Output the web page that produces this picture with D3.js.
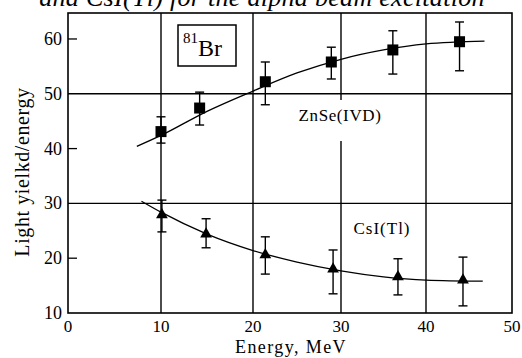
<!DOCTYPE html>
<html>
<head>
<meta charset="utf-8">
<script src="https://cdn.jsdelivr.net/npm/d3@7"></script>
<style>
  body { margin: 0; background: #fff; }
  svg { display: block; }
  svg text { font-family: "Times New Roman", "Liberation Serif", Times, "DejaVu Serif", serif; }
</style>
</head>
<body>
<div id="plot"></div>
<script>
// Data
const xTicks = [0, 10, 20, 30, 40, 50];
const yTickLabels = [10, 20, 30, 40, 50, 60];
const xGrid = [10, 20, 30, 40];
const yGrid = [30, 50];

// ZnSe(IVD) points: energy, value, error low, error high
const znEnergy = [10, 14.2, 21.4, 28.9, 36.1, 43.9];
const znValue = [43.1, 47.4, 52.2, 55.8, 58.0, 59.5];
const znLow = [41.0, 44.3, 48.0, 52.7, 53.6, 54.2];
const znHigh = [45.8, 50.3, 55.8, 58.5, 61.5, 63.1];
const znFitE = [7.4, 10, 15, 20, 25, 30, 35, 40, 46.8];
const znFitV = [40.4, 42.4, 46.8, 50.5, 53.8, 56.3, 58.0, 59.1, 59.6];

// CsI(Tl) points
const csEnergy = [10.1, 14.9, 21.4, 29.1, 36.7, 44.3];
const csValue = [27.9, 24.4, 20.6, 18.0, 16.6, 16.0];
const csLow = [24.8, 21.9, 17.1, 13.5, 13.3, 11.3];
const csHigh = [30.6, 27.2, 23.9, 21.5, 19.9, 20.2];
const csFitE = [7.9, 10, 15, 20, 25, 30, 35, 40, 46.6];
const csFitV = [30.4, 28.4, 24.4, 21.4, 19.3, 17.7, 16.6, 16.0, 15.8];

const W = 522, H = 358;
const pLeft = 68, pRight = 512, pTop = 13, pBottom = 313;
const serif = "'Times New Roman', 'Liberation Serif', 'DejaVu Serif', serif";

const svg = d3.select("#plot").append("svg")
  .attr("width", W)
  .attr("height", H)
  .attr("font-family", serif);

// the scan is a little uneven along x, so map each decade on its own
const xScale = d3.scaleLinear()
  .domain(xTicks)
  .range([pLeft, 161, 253, 341, 426, pRight]);
const yScale = d3.scaleLinear()
  .domain([10, 64.74])
  .range([pBottom, pTop]);

// title line (cut at the top, as in the source)
svg.append("text")
  .attr("x", 262)
  .attr("y", 6)
  .attr("text-anchor", "middle")
  .style("font-style", "italic")
  .style("font-size", "26px")
  .style("letter-spacing", "0.3px")
  .text("and CsI(Tl) for the alpha beam excitation");

// grid lines
svg.selectAll(".vgrid")
  .data(xGrid)
  .join("line")
  .attr("x1", d => xScale(d)).attr("x2", d => xScale(d))
  .attr("y1", pTop).attr("y2", pBottom)
  .attr("stroke", "#000").attr("stroke-width", 1.4);

svg.selectAll(".hgrid")
  .data(yGrid)
  .join("line")
  .attr("x1", pLeft).attr("x2", pRight)
  .attr("y1", d => yScale(d)).attr("y2", d => yScale(d))
  .attr("stroke", "#000").attr("stroke-width", 1.4);

// small ticks on left axis
svg.selectAll(".ytick")
  .data([20, 40, 60])
  .join("line")
  .attr("x1", pLeft).attr("x2", pLeft + 9)
  .attr("y1", d => yScale(d)).attr("y2", d => yScale(d))
  .attr("stroke", "#000").attr("stroke-width", 1.3);

// frame
svg.append("rect")
  .attr("x", pLeft).attr("y", pTop)
  .attr("width", pRight - pLeft).attr("height", pBottom - pTop)
  .attr("fill", "none").attr("stroke", "#000").attr("stroke-width", 1.6);

// tick labels
svg.selectAll(".xlab")
  .data(xTicks)
  .join("text")
  .attr("x", d => xScale(d))
  .attr("y", 332)
  .attr("text-anchor", "middle")
  .style("font-size", "17px")
  .text(d => d);

svg.selectAll(".ylab")
  .data(yTickLabels)
  .join("text")
  .attr("x", 62)
  .attr("y", d => yScale(d) + 6)
  .attr("text-anchor", "end")
  .style("font-size", "18px")
  .text(d => d);

// axis titles
svg.append("text")
  .attr("x", 291)
  .attr("y", 353)
  .attr("text-anchor", "middle")
  .style("font-size", "18px")
  .style("letter-spacing", "1.4px")
  .text("Energy, MeV");

svg.append("text")
  .attr("transform", "translate(29,172) rotate(-90)")
  .attr("text-anchor", "middle")
  .style("font-size", "20px")
  .style("letter-spacing", "0.6px")
  .text("Light yielkd/energy");

// 81Br box
svg.append("rect")
  .attr("x", 178).attr("y", 25)
  .attr("width", 58).attr("height", 41)
  .attr("fill", "#fff").attr("stroke", "#000").attr("stroke-width", 1.5);
const br = svg.append("text")
  .attr("x", 183).attr("y", 56)
  .style("font-size", "24px");
br.append("tspan").attr("dy", -13).style("font-size", "15px").text("81");
br.append("tspan").attr("dy", 13).text("Br");

// fitted curves
const line = d3.line()
  .x(d => xScale(d[0]))
  .y(d => yScale(d[1]))
  .curve(d3.curveMonotoneX);

svg.append("path")
  .attr("d", line(d3.zip(znFitE, znFitV)))
  .attr("fill", "none").attr("stroke", "#000").attr("stroke-width", 1.3);
svg.append("path")
  .attr("d", line(d3.zip(csFitE, csFitV)))
  .attr("fill", "none").attr("stroke", "#000").attr("stroke-width", 1.3);

// error bars
function drawErrors(es, lo, hi) {
  const g = svg.append("g").attr("stroke", "#000").attr("stroke-width", 1.4);
  es.forEach((e, i) => {
    const x = xScale(e);
    g.append("line").attr("x1", x).attr("x2", x)
      .attr("y1", yScale(lo[i])).attr("y2", yScale(hi[i]));
    [lo[i], hi[i]].forEach(v => {
      g.append("line").attr("x1", x - 4.5).attr("x2", x + 4.5)
        .attr("y1", yScale(v)).attr("y2", yScale(v));
    });
  });
}
drawErrors(znEnergy, znLow, znHigh);
drawErrors(csEnergy, csLow, csHigh);

// markers
svg.selectAll(".sq")
  .data(d3.zip(znEnergy, znValue))
  .join("rect")
  .attr("x", d => xScale(d[0]) - 5.5)
  .attr("y", d => yScale(d[1]) - 5.5)
  .attr("width", 11).attr("height", 11)
  .attr("fill", "#000");

svg.selectAll(".tri")
  .data(d3.zip(csEnergy, csValue))
  .join("path")
  .attr("transform", d => `translate(${xScale(d[0])},${yScale(d[1])})`)
  .attr("d", d3.symbol(d3.symbolTriangle, 60))
  .attr("fill", "#000");

// series labels (white backing breaks the grid line)
svg.append("rect")
  .attr("x", 297).attr("y", 100)
  .attr("width", 88).attr("height", 41)
  .attr("fill", "#fff");
svg.append("text")
  .attr("x", 340).attr("y", 121)
  .attr("text-anchor", "middle")
  .style("font-size", "17px")
  .style("letter-spacing", "0.6px")
  .text("ZnSe(IVD)");

svg.append("text")
  .attr("x", 382).attr("y", 234)
  .attr("text-anchor", "middle")
  .style("font-size", "17px")
  .style("letter-spacing", "1px")
  .text("CsI(Tl)");
</script>
</body>
</html>
